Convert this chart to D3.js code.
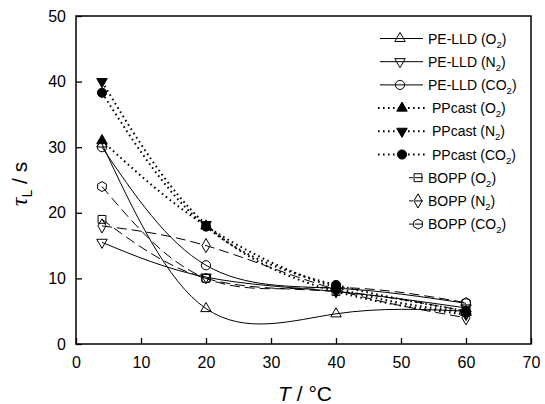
<!DOCTYPE html>
<html>
<head>
<meta charset="utf-8">
<script src="https://cdn.jsdelivr.net/npm/d3@7"></script>
<style>
  html, body { margin: 0; padding: 0; background: #fff; }
  svg { display: block; font-family: "Liberation Sans", Arial, sans-serif; }
</style>
</head>
<body>
<svg id="chart" width="545" height="404"></svg>
<script>
// Temperatures (°C) at which the lag time was measured
const temps = [4, 20, 40, 60];

// Lag time tau_L (s) for each film / gas
const peO2   = [30.5, 5.4, 4.6, 5.0];
const peN2   = [15.5, 10.2, 8.0, 5.5];
const peCO2  = [30.0, 12.0, 8.5, 6.2];
const ppO2   = [31.0, 18.0, 8.6, 4.8];
const ppN2   = [40.0, 18.2, 8.0, 4.5];
const ppCO2  = [38.3, 17.9, 9.0, 5.0];
const boO2   = [19.0, 10.0, 8.0, 5.0];
const boN2   = [18.0, 15.0, 8.3, 4.0];
const boCO2  = [24.0, 10.0, 8.6, 6.3];

const seriesNames = ["PE-LLD", "PE-LLD", "PE-LLD", "PPcast", "PPcast", "PPcast", "BOPP", "BOPP", "BOPP"];
const seriesGas   = ["O", "N", "CO", "O", "N", "CO", "O", "N", "CO"];
const seriesVals  = [peO2, peN2, peCO2, ppO2, ppN2, ppCO2, boO2, boN2, boCO2];

const xTicks = [0, 10, 20, 30, 40, 50, 60, 70];
const yTicks = [0, 10, 20, 30, 40, 50];

// Drawing styles per series
const lineStyle = ["solid", "solid", "solid", "dot", "dot", "dot", "dash", "dash", "dash"];
const markType  = ["tri", "itri", "circle", "tri", "itri", "circle", "square", "diamond", "hex"];
const markFill  = [false, false, false, true, true, true, false, false, false];

const svg = d3.select("#chart");
const W = 545, H = 404;
const L = 76, R = 531, T = 16, B = 344;

const x = d3.scaleLinear().domain([0, 70]).range([L, R]);
const y = d3.scaleLinear().domain([0, 50]).range([B, T]);

// Axes with inward ticks
const gx = svg.append("g").attr("transform", `translate(0,${B})`)
  .call(d3.axisBottom(x).tickValues(xTicks).tickSize(-6).tickPadding(13));
const gy = svg.append("g").attr("transform", `translate(${L},0)`)
  .call(d3.axisLeft(y).tickValues(yTicks).tickSize(-6).tickPadding(10));
[gx, gy].forEach(g => {
  g.select(".domain").remove();
  g.selectAll(".tick line").attr("stroke", "#000").attr("stroke-width", 1.3);
  g.selectAll(".tick text").attr("fill", "#000").style("font-size", "16px")
    .style("font-family", "'Liberation Sans', Arial, sans-serif");
});

// Plot frame
svg.append("rect").attr("x", L).attr("y", T).attr("width", R - L).attr("height", B - T)
  .attr("fill", "none").attr("stroke", "#000").attr("stroke-width", 1.5);

// Symbol generators
function symbolPath(type) {
  const s = 5;
  switch (type) {
    case "tri": return d3.symbol(d3.symbolTriangle, 48)();
    case "itri": return d3.symbol(d3.symbolTriangle, 48)();
    case "circle": return d3.symbol(d3.symbolCircle, 66)();
    case "square": return d3.symbol(d3.symbolSquare, 62)();
    case "diamond": return d3.symbol(d3.symbolDiamond, 58)();
    case "hex": {
      const pts = d3.range(6).map(i => {
        const a = Math.PI / 2 + i * Math.PI / 3;
        return [s * Math.cos(a), s * Math.sin(a)];
      });
      return "M" + pts.map(p => p.join(",")).join("L") + "Z";
    }
  }
}
function symbolRotate(type) { return type === "itri" ? " rotate(180)" : ""; }

function applyLineStyle(sel, style) {
  if (style === "dot") {
    sel.attr("stroke-width", 2).attr("stroke-dasharray", "1.6,3.4").attr("stroke-linecap", "butt");
  } else if (style === "dash") {
    sel.attr("stroke-width", 1).attr("stroke-dasharray", "10,5");
  } else {
    sel.attr("stroke-width", 1);
  }
  return sel;
}

// Smooth curves through the measured points
const line = d3.line()
  .x((d, i) => x(temps[i]))
  .y(d => y(d))
  .curve(d3.curveNatural);

const plot = svg.append("g");
seriesVals.forEach((vals, k) => {
  applyLineStyle(
    plot.append("path").attr("d", line(vals)).attr("fill", "none").attr("stroke", "#000"),
    lineStyle[k]);
});

seriesVals.forEach((vals, k) => {
  plot.selectAll(null).data(vals).enter().append("path")
    .attr("d", symbolPath(markType[k]))
    .attr("transform", (d, i) => `translate(${x(temps[i])},${y(d)})${symbolRotate(markType[k])}`)
    .attr("fill", markFill[k] ? "#000" : "none")
    .attr("stroke", "#000").attr("stroke-width", 1);
});

// Legend
const legY0 = 38.5, legDY = 23.2;
seriesVals.forEach((vals, k) => {
  const ly = legY0 + k * legDY;
  const g = svg.append("g");
  let x0, x1, sx, tx;
  if (lineStyle[k] === "solid") { x0 = 380; x1 = 423; sx = 400; tx = 428; }
  else if (lineStyle[k] === "dot") { x0 = 378; x1 = 425; sx = 402; tx = 432; }
  else { x0 = 409; x1 = 425; sx = 418; tx = 428; }
  const seg = g.append("line").attr("x1", x0).attr("x2", x1).attr("y1", ly).attr("y2", ly)
    .attr("stroke", "#000");
  applyLineStyle(seg, lineStyle[k]);
  if (lineStyle[k] === "dash") seg.attr("stroke-dasharray", "4,2,8,2,4");
  g.append("path").attr("d", symbolPath(markType[k]))
    .attr("transform", `translate(${sx},${ly})${symbolRotate(markType[k])}`)
    .attr("fill", markFill[k] ? "#000" : "none").attr("stroke", "#000").attr("stroke-width", 1);
  const t = g.append("text").attr("x", tx).attr("y", ly + 5).style("font-size", "14px").attr("fill", "#000");
  t.append("tspan").text(`${seriesNames[k]} (${seriesGas[k]}`);
  t.append("tspan").attr("dy", 4).style("font-size", "9.5px").text("2");
  t.append("tspan").attr("dy", -4).text(")");
});

// Axis titles
const xt = svg.append("text").attr("x", 305).attr("y", 401).attr("text-anchor", "middle")
  .style("font-size", "21px").attr("fill", "#000");
xt.append("tspan").style("font-style", "italic").text("T");
xt.append("tspan").text(" / °C");

const yt = svg.append("text").attr("transform", "translate(27,184) rotate(-90)")
  .attr("text-anchor", "middle").style("font-size", "21px").attr("fill", "#000");
yt.append("tspan").style("font-style", "italic").style("font-family", "'Liberation Serif', serif")
  .style("font-size", "24px").text("τ");
yt.append("tspan").attr("dy", 5).style("font-size", "14px").text("L");
yt.append("tspan").attr("dy", -5).text(" / s");
</script>
</body>
</html>
